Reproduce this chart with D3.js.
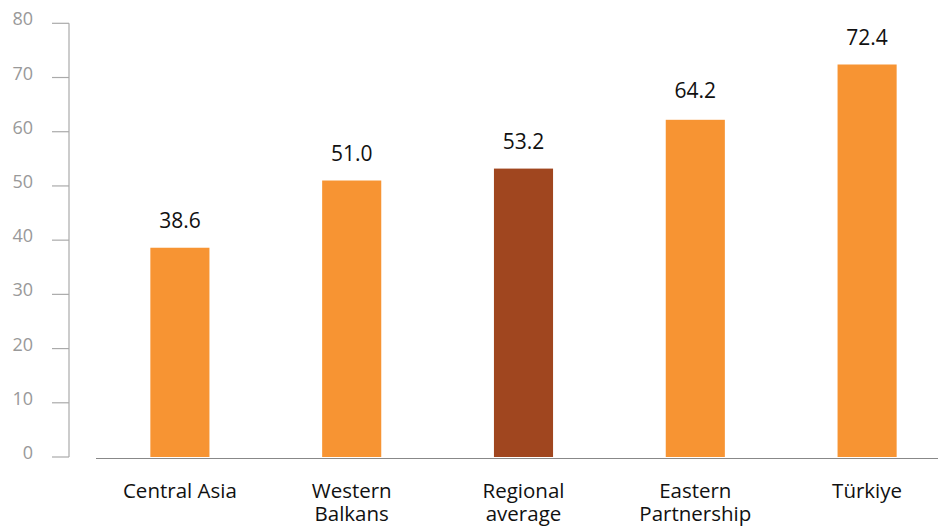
<!DOCTYPE html>
<html>
<head>
<meta charset="utf-8">
<script src="https://cdn.jsdelivr.net/npm/d3@7"></script>
<style>
  body { margin: 0; background: #fff; }
  svg text { font-family: "Open Sans", sans-serif; }
</style>
</head>
<body>
<svg id="chart" width="938" height="528"></svg>
<script>
// chart values (bar heights as drawn, labels as printed)
const categories = [["Central Asia"], ["Western", "Balkans"], ["Regional", "average"], ["Eastern", "Partnership"], ["Türkiye"]];
const barValues = [38.6, 51.0, 53.2, 62.2, 72.4];
const valueLabels = ["38.6", "51.0", "53.2", "64.2", "72.4"];
const highlight = [false, false, true, false, false];
const yTicks = [0, 10, 20, 30, 40, 50, 60, 70, 80];

const svg = d3.select("#chart");

const x = d3.scaleBand()
  .domain(d3.range(barValues.length))
  .range([94, 953])
  .paddingInner(0.656)
  .paddingOuter(0.328);

const y = d3.scaleLinear()
  .domain([0, 80])
  .range([457, 23.3]);

// y axis: vertical line with left ticks
const yAxis = svg.append("g").attr("transform", "translate(69,0)");
yAxis.append("line")
  .attr("x1", 0).attr("x2", 0)
  .attr("y1", y(80)).attr("y2", y(0))
  .attr("stroke", "#aaa").attr("stroke-width", 1.2);
yAxis.selectAll(".tick")
  .data(yTicks)
  .join("line")
  .attr("x1", -17).attr("x2", 0)
  .attr("y1", d => y(d)).attr("y2", d => y(d))
  .attr("stroke", "#aaa").attr("stroke-width", 1.2);
yAxis.selectAll(".lab")
  .data(yTicks)
  .join("text")
  .attr("x", -36)
  .attr("y", d => y(d) + 2)
  .attr("text-anchor", "end")
  .attr("fill", "#999")
  .style("font-size", "18px")
  .text(d => d);

// bars
svg.selectAll(".bar")
  .data(barValues)
  .join("rect")
  .attr("x", (d, i) => x(i))
  .attr("width", x.bandwidth())
  .attr("y", d => y(d))
  .attr("height", d => y(0) - y(d))
  .attr("fill", (d, i) => highlight[i] ? "#a0461f" : "#f79433");

// baseline
svg.append("line")
  .attr("x1", 96).attr("x2", 938)
  .attr("y1", y(0) + 1.5).attr("y2", y(0) + 1.5)
  .attr("stroke", "#888").attr("stroke-width", 1.2);

// value labels
svg.selectAll(".val")
  .data(barValues)
  .join("text")
  .attr("x", (d, i) => x(i) + x.bandwidth() / 2)
  .attr("y", (d, i) => y(d) - (i === 3 ? 22 : 19.5))
  .attr("text-anchor", "middle")
  .attr("fill", "#111")
  .style("font-size", "21px")
  .text((d, i) => valueLabels[i]);

// category labels
const cat = svg.selectAll(".cat")
  .data(categories)
  .join("text")
  .attr("text-anchor", "middle")
  .attr("fill", "#111")
  .style("font-size", "20.5px");
cat.selectAll("tspan")
  .data((d, i) => d.map(t => ({ t, i })))
  .join("tspan")
  .attr("x", d => x(d.i) + x.bandwidth() / 2)
  .attr("y", (d, j) => 498 + j * 23)
  .text(d => d.t);
</script>
</body>
</html>
